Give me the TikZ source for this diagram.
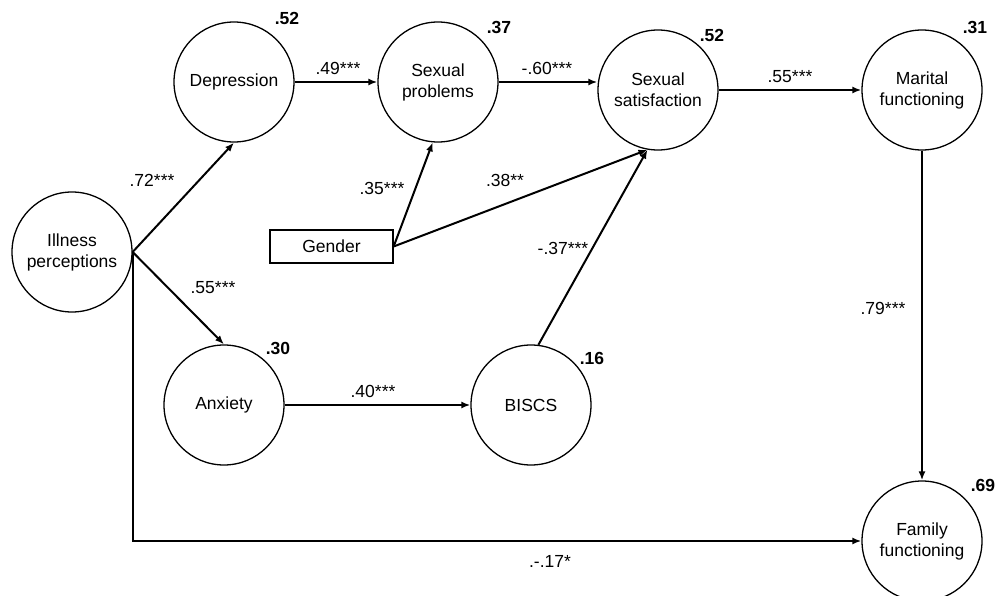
\documentclass[tikz,border=0pt]{standalone}
\usepackage{fontspec}
\setmainfont{Liberation Sans}
\usetikzlibrary{arrows.meta}
\tikzset{
  var/.style={circle, draw, line width=1.3pt, minimum size=120pt, inner sep=0pt, align=center, font=\fontsize{17.5}{21}\selectfont},
  obs/.style={rectangle, draw, line width=1.3pt, minimum width=123pt, minimum height=33pt, inner sep=0pt, font=\fontsize{17.5}{21}\selectfont},
  path/.style={line width=2pt, -{Latex[length=9pt,width=7pt]}},
  coef/.style={font=\fontsize{17.5}{21}\selectfont, inner sep=0pt},
  rsq/.style={font=\fontsize{17.5}{21}\selectfont\bfseries, inner sep=0pt}
}
\begin{document}
\begin{tikzpicture}[x=1pt,y=-1pt]
\useasboundingbox (0,0) rectangle (995,596);
\node[var] (ill) at (72,252) {Illness\\perceptions};
\node[var] (dep) at (234,82) {Depression};
\node[var] (sp) at (438,82) {Sexual\\problems};
\node[var] (ss) at (658,90) {Sexual\\satisfaction};
\node[var] (mf) at (922,90) {Marital\\functioning};
\node[var] (anx) at (224,405) {Anxiety};
\node[var] (bis) at (531,405) {BISCS};
\node[var] (ff) at (922,541) {Family\\functioning};
\node[obs] (gen) at (331.5,246.5) {Gender};

\draw[path] (ill.east) -- (dep.south);
\draw[path] (ill.east) -- (anx.north);
\draw[path] (ill.east) -- (ill.east |- ff.west) -- (ff.west);
\draw[path] (dep.east) -- (sp.west);
\draw[path] (gen.east) -- (sp.265);
\draw[path] (gen.east) -- (ss.260);
\draw[path] (sp.east) -- (sp.east -| ss.west);
\draw[path] (bis.83) -- (ss.260);
\draw[path] (ss.east) -- (mf.west);
\draw[path] (mf.south) -- (ff.north);
\draw[path] (anx.east) -- (bis.west);

\node[coef] (c1) at (152,180) {.72***};
\node[coef] (c2) at (213,288) {.55***};
\node[coef] (c3) at (338,68) {.49***};
\node[coef] (c4) at (382,188) {.35***};
\node[coef] (c5) at (505,180) {.38**};
\node[coef] (c6) at (547,68) {-.60***};
\node[coef] (c7) at (563,248) {-.37***};
\node[coef] (c8) at (790,77) {.55***};
\node[coef] (c9) at (883,308) {.79***};
\node[coef] (c10) at (373,391) {.40***};
\node[coef] (c11) at (550,561) {.-.17*};

\node[rsq] (r1) at (287,18) {.52};
\node[rsq] (r2) at (499,27) {.37};
\node[rsq] (r3) at (712,35) {.52};
\node[rsq] (r4) at (975,27) {.31};
\node[rsq] (r5) at (278,348) {.30};
\node[rsq] (r6) at (592,358) {.16};
\node[rsq] (r7) at (983,485) {.69};
\end{tikzpicture}
\end{document}
